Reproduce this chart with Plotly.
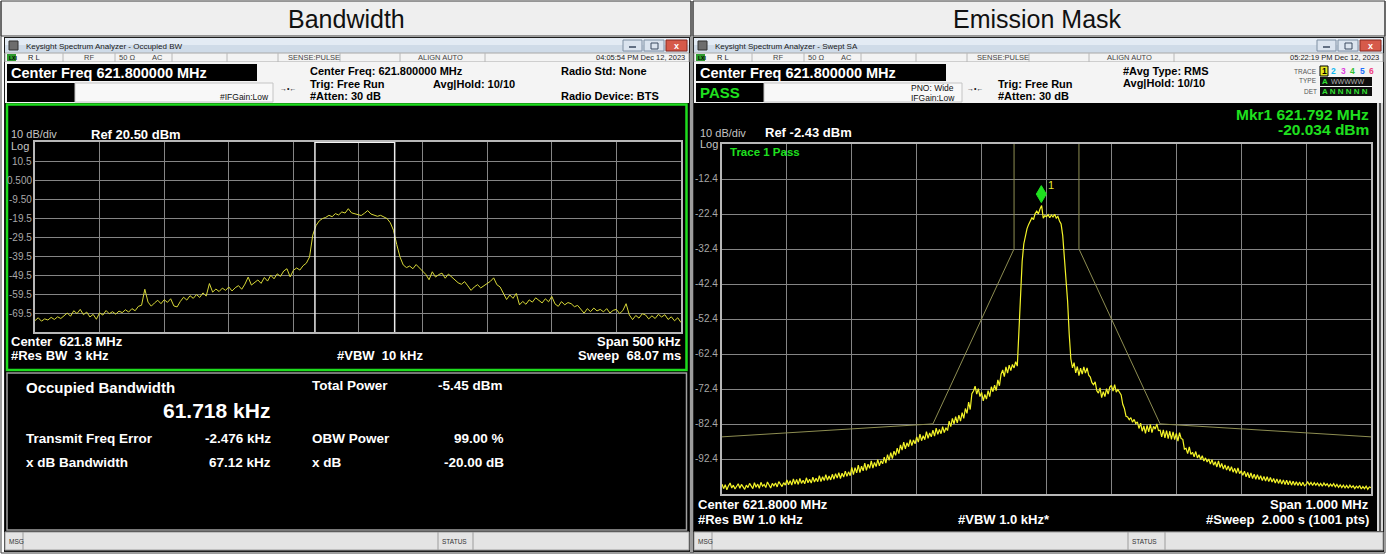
import plotly.graph_objects as go

W, H = 1386, 554
FONT = "Liberation Sans, Arial, sans-serif"

# ---------------------------------------------------------------- data
center_mhz = 621.8

# Occupied BW sweep: 500 kHz span, levels every 2.5 kHz from -250 kHz
obw_start_khz = -250.0
obw_step_khz = 2.5
obw_level_dbm = [
    -73.5, -72.0, -73.8, -72.6, -73.2, -71.8, -72.9, -71.5, -72.4, -70.8,
    -69.5, -71.2, -68.3, -69.8, -67.6, -70.4, -69.0, -71.6, -70.2, -72.8,
    -69.4, -70.6, -68.2, -69.9, -68.8, -70.1, -68.5, -69.3, -67.8, -69.0,
    -67.2, -68.3, -66.0, -65.4, -57.0, -63.8, -65.9, -64.2, -62.8, -64.6,
    -62.5, -63.9, -62.0, -65.8, -66.3, -63.4, -61.2, -62.7, -60.4, -61.8,
    -59.8, -61.3, -58.9, -60.6, -54.0, -58.5, -56.9, -58.2, -56.4, -57.6,
    -55.8, -57.9, -56.2, -55.1, -57.0, -54.3, -50.6, -54.8, -53.2, -52.1,
    -53.9, -50.8, -52.7, -49.6, -51.5, -48.9, -50.2, -47.4, -46.2, -50.5,
    -47.0, -45.8, -46.9, -44.6, -43.3, -40.0, -28.5, -23.5, -21.0, -19.8,
    -19.2, -18.1, -18.8, -17.2, -17.9, -16.3, -16.9, -14.6, -16.8, -17.3,
    -17.6, -18.2, -17.0, -15.6, -17.4, -17.8, -18.6, -18.1, -19.0, -19.8,
    -22.0, -26.0, -33.5, -40.0, -44.2, -45.6, -44.8, -46.2, -44.0, -45.8,
    -47.5, -49.2, -52.0, -47.8, -50.6, -49.3, -48.5, -51.2, -49.0, -50.6,
    -52.4, -53.6, -54.4, -53.0, -55.2, -57.6, -55.8, -54.6, -56.3, -55.1,
    -54.0, -52.8, -51.0, -54.6, -55.8, -58.9, -62.4, -60.0, -61.8, -59.2,
    -65.2, -63.4, -64.9, -62.6, -63.8, -61.5, -63.0, -64.2, -62.0, -63.6,
    -60.8, -64.7, -66.0, -63.5, -65.2, -64.0, -64.6, -66.2, -65.5, -67.3,
    -69.6, -67.2, -68.8, -66.9, -68.4, -67.6, -68.9, -67.2, -69.5, -68.1,
    -67.6, -69.8, -68.2, -64.6, -70.5, -73.0, -70.8, -72.2, -69.9, -70.5,
    -72.6, -71.0, -72.4, -70.2, -71.6, -70.4, -72.9, -71.5, -73.6, -72.0, -74.5,
]
obw_freq_khz = [obw_start_khz + i * obw_step_khz for i in range(len(obw_level_dbm))]

obw_ref_dbm = 20.5
obw_tick_vals = [10.5, 0.5, -9.5, -19.5, -29.5, -39.5, -49.5, -59.5, -69.5]
obw_tick_text = ["10.5", "0.500", "-9.50", "-19.5", "-29.5", "-39.5", "-49.5", "-59.5", "-69.5"]

# Occupied BW results
obw_khz = 61.718
freq_error_khz = -2.476
total_power_dbm = -5.45
obw_power_pct = 99.00
xdb_bw_khz = 67.12
xdb_db = -20.00

# Swept SA with emission mask: 1 MHz span, levels every 2.5 kHz from -500 kHz
sa_start_khz = -500.0
sa_step_khz = 2.5
sa_level_dbm = [
    # -500 .. -452.5
    -99.6, -100.9, -99.8, -101.2, -100.1, -99.3, -100.7, -99.9, -101.0, -100.2,
    -99.5, -100.8, -99.7, -100.4, -101.1, -99.9, -100.6, -99.4, -100.3, -100.9,
    # -450 .. -402.5
    -99.2, -100.5, -99.6, -100.8, -99.1, -100.2, -99.7, -100.6, -99.0, -99.9,
    -100.7, -99.4, -100.1, -99.3, -100.4, -98.9, -99.8, -100.3, -99.2, -99.9,
    # -400 .. -352.5
    -98.4, -99.8, -98.6, -99.9, -98.1, -99.6, -98.3, -99.7, -98.0, -99.4,
    -98.5, -99.5, -97.8, -99.2, -98.2, -99.3, -97.6, -99.0, -97.9, -98.9,
    # -350 .. -302.5
    -97.2, -98.9, -97.5, -98.6, -96.9, -98.5, -97.3, -98.4, -96.8, -98.2,
    -96.6, -97.9, -96.3, -98.0, -96.5, -97.6, -95.9, -97.4, -96.1, -97.2,
    # -300 .. -252.5
    -94.8, -96.9, -94.9, -96.4, -94.2, -96.3, -94.5, -95.8, -93.6, -95.7,
    -93.9, -95.1, -93.0, -95.0, -93.4, -94.6, -92.6, -94.4, -92.9, -93.8,
    # -250 .. -202.5
    -91.9, -93.6, -91.2, -92.8, -90.6, -92.3, -90.2, -91.4, -89.3, -90.9,
    -88.4, -89.9, -87.6, -89.5, -87.8, -88.9, -86.9, -88.6, -87.0, -88.1,
    # -200 .. -152.5
    -86.1, -87.6, -85.3, -87.2, -85.8, -86.9, -84.6, -86.5, -85.0, -86.1,
    -84.2, -85.9, -83.6, -85.4, -84.0, -85.2, -83.2, -84.9, -83.5, -84.3,
    # -150 .. -102.5
    -81.6, -83.2, -80.8, -82.4, -80.3, -82.1, -79.9, -81.6, -79.2, -80.8,
    -78.0, -79.4, -76.2, -78.3, -73.8, -73.0, -71.6, -73.9, -72.3, -74.6,
    # -100 .. -52.5
    -73.4, -75.8, -74.0, -75.3, -72.9, -74.6, -71.8, -73.2, -71.3, -72.9,
    -69.8, -71.5, -68.2, -67.0, -68.9, -66.1, -67.9, -65.6, -67.2, -65.4,
    # -50 .. -2.5
    -66.4, -64.6, -65.9, -56.0, -45.0, -36.0, -31.0, -28.2, -26.6, -25.4,
    -24.3, -23.5, -24.0, -22.3, -21.6, -22.4, -21.0, -20.034, -23.6, -22.9,
    # 0 .. 47.5
    -23.2, -22.6, -23.5, -22.7, -23.3, -22.5, -23.6, -23.1, -24.4, -25.3,
    -28.6, -34.2, -40.1, -47.3, -56.8, -63.8, -66.4, -64.9, -67.8, -66.0,
    # 50 .. 97.5
    -68.6, -66.5, -68.2, -66.1, -67.9, -66.4, -68.5, -69.0, -70.6, -71.2,
    -70.4, -72.9, -73.6, -72.1, -74.9, -73.2, -74.6, -72.3, -73.9, -71.9,
    # 100 .. 147.5
    -71.4, -73.0, -71.2, -73.3, -72.6, -73.6, -74.1, -76.8, -78.0, -80.2,
    -80.4, -81.2, -80.6, -81.9, -81.1, -82.3, -81.8, -83.7, -82.2, -84.5,
    # 150 .. 197.5
    -83.0, -85.1, -82.8, -84.7, -82.5, -84.9, -83.1, -83.9, -82.4, -84.3,
    -84.2, -86.1, -84.1, -86.4, -84.3, -86.6, -84.5, -86.8, -84.7, -86.9,
    # 200 .. 247.5
    -85.1, -87.3, -84.9, -86.6, -86.8, -89.6, -89.4, -90.9, -89.0, -91.1,
    -90.5, -91.8, -90.3, -92.1, -91.2, -92.6, -91.5, -93.0, -92.1, -93.3,
    # 250 .. 297.5
    -92.4, -93.9, -92.6, -94.2, -93.2, -94.7, -93.0, -94.9, -93.7, -95.3,
    -94.1, -95.6, -94.4, -95.9, -94.6, -96.2, -95.1, -96.5, -95.0, -96.6,
    # 300 .. 347.5
    -95.8, -97.1, -95.9, -97.5, -96.3, -97.8, -96.4, -98.0, -96.8, -98.2,
    -96.9, -98.3, -97.2, -98.6, -97.4, -98.7, -97.5, -98.9, -97.7, -99.0,
    # 350 .. 397.5
    -98.0, -99.3, -98.1, -99.4, -98.3, -99.6, -98.4, -99.7, -98.5, -99.8,
    -98.6, -99.9, -98.8, -99.9, -98.9, -100.0, -99.0, -100.1, -99.1, -100.1,
    # 400 .. 447.5
    -99.7, -99.0, -99.8, -99.1, -100.0, -99.2, -99.9, -99.3, -100.1, -99.4,
    -100.2, -99.3, -100.0, -99.5, -100.3, -99.6, -100.2, -99.5, -100.4, -99.7,
    # 450 .. 500
    -100.5, -99.8, -100.6, -99.9, -100.7, -100.0, -100.8, -99.9, -100.6, -100.1,
    -100.9, -100.2, -100.7, -100.0, -101.0, -100.3, -100.9, -100.2, -101.1, -100.4,
    -100.6,
]
sa_freq_khz = [sa_start_khz + i * sa_step_khz for i in range(len(sa_level_dbm))]

sa_ref_dbm = -2.43
sa_tick_vals = [-12.43, -22.43, -32.43, -42.43, -52.43, -62.43, -72.43, -82.43, -92.43]
sa_tick_text = ["-12.4", "-22.4", "-32.4", "-42.4", "-52.4", "-62.4", "-72.4", "-82.4", "-92.4"]

# spectrum emission mask limit line (open above the screen inside +/-50 kHz)
mask_freq_khz = [-500, -175, -50, -50, 50, 50, 175, 500]
mask_level_dbm = [-86.1, -82.4, -32.4, 10.0, 10.0, -32.4, -82.4, -86.1]

# marker 1
mkr_freq_mhz = 621.792
mkr_level_dbm = -20.034

# ---------------------------------------------------------------- helpers
shapes, annotations = [], []


def rect(x0, y0, x1, y1, fill=None, line=None, lw=1, layer="below"):
    shapes.append(dict(type="rect", xref="paper", yref="paper",
                       x0=x0 / W, x1=x1 / W, y0=1 - y1 / H, y1=1 - y0 / H,
                       fillcolor=fill or "rgba(0,0,0,0)",
                       line=dict(color=line or "rgba(0,0,0,0)", width=lw if line else 0),
                       layer=layer))


def seg(x0, y0, x1, y1, color, lw=1, layer="above"):
    shapes.append(dict(type="line", xref="paper", yref="paper",
                       x0=x0 / W, x1=x1 / W, y0=1 - y0 / H, y1=1 - y1 / H,
                       line=dict(color=color, width=lw), layer=layer))


def label(x, y, s, size=11, color="#000000", bold=False, anchor="left"):
    annotations.append(dict(xref="paper", yref="paper", x=x / W, y=1 - y / H,
                            text=("<b>%s</b>" % s) if bold else s, showarrow=False,
                            xanchor=anchor, yanchor="middle", borderpad=0,
                            font=dict(size=size, color=color, family=FONT)))


def window(ox, ow, caption, stamp):
    """Analyzer window frame: caption bar, status row, info strip and message bar."""
    x1 = ox + ow
    rect(ox - 1, 37, x1 + 1, 552, fill="#1c1c1c")
    rect(ox, 38, x1, 45, fill="#e3ebf4")
    rect(ox, 45, x1, 53, fill="#cfdbe8")
    rect(ox + 4, 41, ox + 13, 50, fill="#6d6d6d", line="#303030", lw=1)
    label(ox + 20, 46.5, caption, size=8, color="#1a1a1a")
    # caption buttons
    rect(x1 - 66, 40, x1 - 47, 51, fill="#dbe4ef", line="#7f8fa3")
    rect(x1 - 45, 40, x1 - 25, 51, fill="#dbe4ef", line="#7f8fa3")
    rect(x1 - 23, 40, x1 - 2, 51, fill="#d65a4a", line="#8a2a20")
    seg(x1 - 60, 47, x1 - 53, 47, "#3a4a60", 1.5)
    rect(x1 - 38, 43, x1 - 31, 49, line="#3a4a60", layer="above")
    label(x1 - 12.5, 45.5, "x", size=9, color="#ffffff", bold=True, anchor="center")
    # status row
    rect(ox, 53, x1, 62, fill="#f3f3f3", line="#a8a8a8", lw=1)
    rect(ox + 2, 54, ox + 11, 61, fill="#2d9a2d")
    label(ox + 2.5, 57.5, "LXI", size=5, color="#000000", bold=True)
    for dx in (58, 110, 167, 222, 273, 335, 395, 480):
        seg(ox + dx, 53, ox + dx, 62, "#b8b8b8", 1)
    label(ox + 22, 57.5, "R L", size=7.5, color="#222222")
    label(ox + 78, 57.5, "RF", size=7.5, color="#444444")
    label(ox + 113, 57.5, "50 \u03a9", size=7.5, color="#444444")
    label(ox + 146, 57.5, "AC", size=7.5, color="#444444")
    label(ox + 282, 57.5, "SENSE:PULSE", size=7.5, color="#444444")
    label(ox + 412, 57.5, "ALIGN AUTO", size=7.5, color="#444444")
    label(x1 - 3, 57.5, stamp, size=7.5, color="#222222", anchor="right")
    # info strip
    rect(ox, 62, x1, 103, fill="#f4f4f4")
    # message bar
    rect(ox, 532, x1, 550, fill="#e4e4e4", line="#9c9c9c")
    label(ox + 3, 541, "MSG", size=6.5, color="#333333")
    seg(ox + 18, 532, ox + 18, 550, "#9c9c9c")


# ---------------------------------------------------------------- page frame
rect(0, 0, W, H, fill="#ffffff")
rect(1, 1, 691, 36, fill="#efefef", line="#3c3c3c")
rect(693, 1, 1385, 36, fill="#efefef", line="#3c3c3c")
seg(1, 1, 1, 553, "#3c3c3c")
seg(691, 1, 691, 553, "#3c3c3c")
seg(693, 1, 693, 553, "#3c3c3c")
seg(1385, 1, 1385, 553, "#3c3c3c")
seg(1, 553, 1385, 553, "#3c3c3c")
label(346, 19, "Bandwidth", size=25, color="#111111", anchor="center")
label(1037, 19, "Emission Mask", size=25, color="#111111", anchor="center")

# ---------------------------------------------------------------- left window (Occupied BW)
window(5, 684, "Keysight Spectrum Analyzer - Occupied BW", "04:05:54 PM Dec 12, 2023")
rect(7, 64, 257, 81, fill="#000000")
label(10, 73, "Center Freq %.6f MHz" % center_mhz, size=14.5, color="#ffffff", bold=True)
rect(7, 83, 75, 102, fill="#000000")
rect(75, 83, 273, 102, fill="#f8f8f8", line="#c4c4c4")
label(219, 97, "#IFGain:Low", size=8.5, color="#111111")
label(279, 88, "\u2192\u2022\u2190", size=7, color="#111111")
label(309, 71, "Center Freq: %.6f MHz" % center_mhz, size=11, bold=True)
label(309, 83.5, "Trig: Free Run", size=11, bold=True)
label(309, 96, "#Atten: 30 dB", size=11, bold=True)
label(432, 83.5, "Avg|Hold: 10/10", size=11, bold=True)
label(560, 71, "Radio Std: None", size=11, bold=True)
label(560, 96, "Radio Device: BTS", size=11, bold=True)

rect(5, 103, 689, 531, fill="#000000")
rect(7, 104.5, 686.5, 370, line="#1edc1e", lw=2.5, layer="above")
rect(7, 373, 686.5, 530, line="#a0a0a0", lw=1.5, layer="above")
label(10, 134, "10 dB/div", size=11, color="#c4c4c4")
label(90, 134, "Ref %.2f dBm" % obw_ref_dbm, size=13, color="#ffffff", bold=True)
label(10, 146, "Log", size=11, color="#c4c4c4")
label(10, 341, "Center  %.1f MHz" % center_mhz, size=13, color="#ffffff", bold=True)
label(10, 355, "#Res BW  3 kHz", size=13, color="#ffffff", bold=True)
label(336, 355, "#VBW  10 kHz", size=13, color="#ffffff", bold=True)
label(682, 341, "Span 500 kHz", size=13, color="#ffffff", bold=True, anchor="right")
label(682, 355, "Sweep  68.07 ms", size=13, color="#ffffff", bold=True, anchor="right")

label(25, 387, "Occupied Bandwidth", size=15, color="#ffffff", bold=True)
label(162, 410, "%.3f kHz" % obw_khz, size=21, color="#ffffff", bold=True)
label(311, 385, "Total Power", size=13.5, color="#ffffff", bold=True)
label(437, 385, "%.2f dBm" % total_power_dbm, size=13.5, color="#ffffff", bold=True)
label(25, 438, "Transmit Freq Error", size=13.5, color="#ffffff", bold=True)
label(272, 438, "%.3f kHz" % freq_error_khz, size=13.5, color="#ffffff", bold=True, anchor="right")
label(311, 438, "OBW Power", size=13.5, color="#ffffff", bold=True)
label(505, 438, "%.2f %%" % obw_power_pct, size=13.5, color="#ffffff", bold=True, anchor="right")
label(25, 462, "x dB Bandwidth", size=13.5, color="#ffffff", bold=True)
label(272, 462, "%.2f kHz" % xdb_bw_khz, size=13.5, color="#ffffff", bold=True, anchor="right")
label(311, 462, "x dB", size=13.5, color="#ffffff", bold=True)
label(505, 462, "%.2f dB" % xdb_db, size=13.5, color="#ffffff", bold=True, anchor="right")

seg(438, 532, 438, 550, "#9c9c9c")
seg(473, 532, 473, 550, "#9c9c9c")
label(441, 541, "STATUS", size=6.5, color="#333333")

# ---------------------------------------------------------------- right window (Swept SA)
window(694, 689, "Keysight Spectrum Analyzer - Swept SA", "05:22:19 PM Dec 12, 2023")
rect(696, 64, 946, 81, fill="#000000")
label(699, 73, "Center Freq %.6f MHz" % center_mhz, size=14.5, color="#ffffff", bold=True)
rect(696, 83, 764, 102, fill="#000000")
label(699, 92.5, "PASS", size=15, color="#1fe01f", bold=True)
rect(764, 83, 962, 102, fill="#f8f8f8", line="#c4c4c4")
label(910, 88, "PNO: Wide", size=8.5, color="#111111")
label(910, 97.5, "IFGain:Low", size=8.5, color="#111111")
label(966, 88, "\u2192\u2022\u2190", size=7, color="#111111")
label(997, 83.5, "Trig: Free Run", size=11, bold=True)
label(997, 95.5, "#Atten: 30 dB", size=11, bold=True)
label(1122, 71, "#Avg Type: RMS", size=11, bold=True)
label(1122, 83, "Avg|Hold: 10/10", size=11, bold=True)
label(1318, 71, "TRACE", size=6.5, color="#555555", anchor="right")
label(1318, 81, "TYPE", size=6.5, color="#555555", anchor="right")
label(1318, 91, "DET", size=6.5, color="#555555", anchor="right")
rect(1320, 66, 1328, 76, fill="#e8e820", line="#000000")
trace_digit_colors = ["#000000", "#10b8f0", "#e040e0", "#30c030", "#2070ff", "#f04080"]
for i, c in enumerate(trace_digit_colors):
    label(1324 + i * 9.5, 71, str(i + 1), size=8.5, color=c, bold=True, anchor="center")
rect(1320, 77, 1372, 86, fill="#101010")
rect(1320, 87, 1372, 96, fill="#101010")
label(1321, 81.5, "A", size=8, color="#30e030", bold=True)
label(1330, 81.5, "WWWWW", size=7, color="#b0b0b0")
label(1321, 91.5, "A N N N N N", size=8, color="#30e030", bold=True)

rect(694, 103, 1377, 531, fill="#000000")
rect(1377, 103, 1383, 531, fill="#d8d8d8")
seg(1380, 103, 1380, 531, "#2a2a2a", 1.5)
label(1370, 114, "Mkr1 %.3f MHz" % mkr_freq_mhz, size=15.5, color="#1fe01f", bold=True, anchor="right")
label(1370, 129, "%.3f dBm" % mkr_level_dbm, size=15.5, color="#1fe01f", bold=True, anchor="right")
label(699, 133, "10 dB/div", size=11, color="#c4c4c4")
label(764, 133, "Ref %.2f dBm" % sa_ref_dbm, size=13, color="#ffffff", bold=True)
label(699, 143.5, "Log", size=11, color="#c4c4c4")
label(729, 152, "Trace 1 Pass", size=11.5, color="#1fe01f", bold=True)
label(697, 504, "Center %.4f MHz" % center_mhz, size=13, color="#ffffff", bold=True)
label(697, 519, "#Res BW 1.0 kHz", size=13, color="#ffffff", bold=True)
label(957, 519, "#VBW 1.0 kHz*", size=13, color="#ffffff", bold=True)
label(1370, 504, "Span 1.000 MHz", size=13, color="#ffffff", bold=True, anchor="right")
label(1370, 519, "#Sweep  2.000 s (1001 pts)", size=13, color="#ffffff", bold=True, anchor="right")

seg(1128, 532, 1128, 550, "#9c9c9c")
seg(1165, 532, 1165, 550, "#9c9c9c")
label(1131, 541, "STATUS", size=6.5, color="#333333")

# ---------------------------------------------------------------- y tick labels (inside screens)
for v, t in zip(obw_tick_vals, obw_tick_text):
    annotations.append(dict(xref="paper", yref="y", x=33 / W, y=v, text=t, showarrow=False,
                            xanchor="right", yanchor="middle", borderpad=0,
                            font=dict(size=10, color="#a8a8a8", family=FONT)))
for v, t in zip(sa_tick_vals, sa_tick_text):
    annotations.append(dict(xref="paper", yref="y2", x=719 / W, y=v, text=t, showarrow=False,
                            xanchor="right", yanchor="middle", borderpad=0,
                            font=dict(size=10, color="#a8a8a8", family=FONT)))

# occupied bandwidth edges
obw_lo = freq_error_khz - obw_khz / 2
obw_hi = freq_error_khz + obw_khz / 2
for f in (obw_lo, obw_hi):
    shapes.append(dict(type="line", xref="x", yref="y", x0=f, x1=f, y0=-79.5, y1=obw_ref_dbm,
                       line=dict(color="#ececec", width=1.5), layer="above"))
shapes.append(dict(type="line", xref="x", yref="y", x0=obw_lo, x1=obw_hi, y0=obw_ref_dbm,
                   y1=obw_ref_dbm, line=dict(color="#f4f4f4", width=2), layer="above"))

# marker 1 diamond sitting on the trace
mkr_khz = (mkr_freq_mhz - center_mhz) * 1000.0
shapes.append(dict(type="path", xref="x2", yref="y2", xsizemode="pixel", ysizemode="pixel",
                   xanchor=mkr_khz, yanchor=mkr_level_dbm,
                   path="M 0 3 L 5 11.5 L 0 20 L -5 11.5 Z",
                   fillcolor="#1fe01f", line=dict(color="#1fe01f", width=1), layer="above"))
annotations.append(dict(xref="x2", yref="y2", x=mkr_khz, y=mkr_level_dbm, text="1",
                        showarrow=False, xshift=10, yshift=21, borderpad=0,
                        font=dict(size=11, color="#e8e830", family=FONT)))

# ---------------------------------------------------------------- traces
fig = go.Figure()
fig.add_trace(go.Scatter(x=obw_freq_khz, y=obw_level_dbm, xaxis="x", yaxis="y", mode="lines",
                         line=dict(color="#d8d838", width=1), hoverinfo="skip", showlegend=False))
fig.add_trace(go.Scatter(x=mask_freq_khz, y=mask_level_dbm, xaxis="x2", yaxis="y2", mode="lines",
                         line=dict(color="#8e8e52", width=1), hoverinfo="skip", showlegend=False))
fig.add_trace(go.Scatter(x=sa_freq_khz, y=sa_level_dbm, xaxis="x2", yaxis="y2", mode="lines",
                         line=dict(color="#f4f428", width=1.2), hoverinfo="skip", showlegend=False))

axis_style = dict(showgrid=True, gridcolor="#858585", gridwidth=1, zeroline=False,
                  showline=True, linecolor="#b8b8b8", linewidth=2, mirror=True,
                  ticks="", showticklabels=False, fixedrange=True)

fig.update_layout(
    width=W, height=H, margin=dict(l=0, r=0, t=0, b=0),
    paper_bgcolor="#ffffff", plot_bgcolor="#000000", showlegend=False,
    xaxis=dict(domain=[35 / W, 681 / W], range=[-250, 250], tick0=0, dtick=50, anchor="y", **axis_style),
    yaxis=dict(domain=[1 - 332 / H, 1 - 142 / H], range=[-79.5, obw_ref_dbm], tickvals=obw_tick_vals,
               anchor="x", **axis_style),
    xaxis2=dict(domain=[722 / W, 1371 / W], range=[-500, 500], tick0=0, dtick=100, anchor="y2", **axis_style),
    yaxis2=dict(domain=[1 - 494 / H, 1 - 144 / H], range=[-102.43, sa_ref_dbm], tickvals=sa_tick_vals,
                anchor="x2", **axis_style),
    shapes=shapes, annotations=annotations,
)

fig.write_html("out.html")
